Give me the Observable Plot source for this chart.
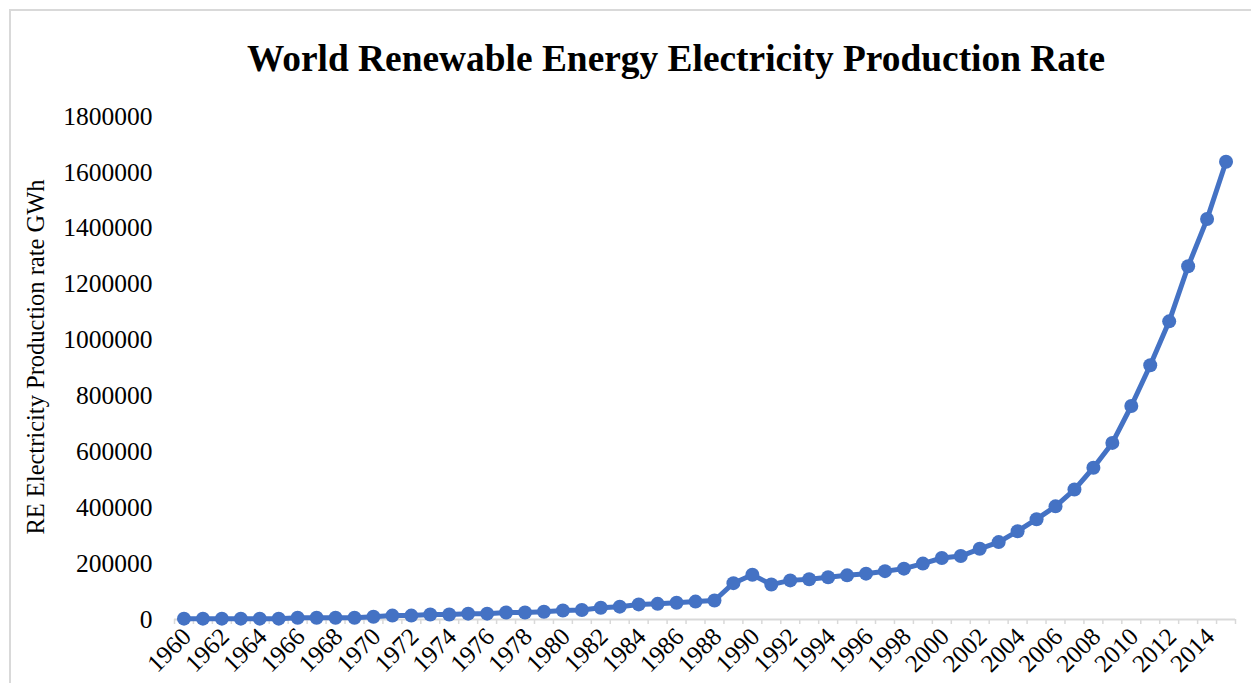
<!DOCTYPE html>
<html>
<head>
<meta charset="utf-8">
<script src="https://cdn.jsdelivr.net/npm/d3@7"></script>
<script src="https://cdn.jsdelivr.net/npm/@observablehq/plot@0.6"></script>
<style>
  html, body { margin: 0; padding: 0; background: #fff; }
  #page { position: relative; width: 1251px; height: 683px; overflow: hidden; background: #fff; }
  #frame { position: absolute; left: 9px; top: 9px; width: 1300px; height: 700px;
           border-left: 2px solid #d9d9d9; border-top: 2px solid #d9d9d9; }
  #title { position: absolute; left: 0; width: 1352px; top: 40px; text-align: center;
           font-family: "Liberation Serif", "Times New Roman", serif; font-weight: bold;
           font-size: 37.4px; line-height: 1; color: #000; }
  #chart { position: absolute; left: 0; top: 100px; }
</style>
</head>
<body>
<div id="page">
  <div id="frame"></div>
  <div id="title">World Renewable Energy Electricity Production Rate</div>
  <div id="chart"></div>
</div>
<script>
const years = d3.range(1960, 2016);
const production = [
  3000, 3000, 3000, 3000, 3000, 3000, 6000, 6000, 6000, 6000,
  10000, 14000, 14000, 18000, 18000, 21000, 21000, 25000, 25000, 28000,
  32000, 34000, 42000, 46000, 54000, 56000, 60000, 64000, 68000, 130000,
  160000, 125000, 140000, 144000, 151000, 158000, 164000, 173000, 182000, 200000,
  220000, 227000, 253000, 277000, 316000, 359000, 405000, 465000, 543000, 632000,
  764000, 910000, 1067000, 1264000, 1433000, 1638000
];
const yTicks = d3.range(0, 1800001, 200000);
const xLabelYears = d3.range(1960, 2015, 2);
const xTickMarks = d3.range(1959.5, 2016, 1);
const yLabel = "RE Electricity Production rate GWh";

const data = years.map((y, i) => ({year: y, value: production[i]}));
const font = '"Liberation Serif", "Times New Roman", serif';
const blue = "#4472C4";

const chart = Plot.plot({
  width: 1251,
  height: 583,
  marginLeft: 174,
  marginRight: 16,
  marginTop: 16,
  marginBottom: 64,
  style: {fontFamily: font, fontSize: "25px", color: "#000", background: "transparent"},
  x: {domain: [1959.5, 2015.5], axis: null},
  y: {domain: [0, 1800000], axis: null},
  marks: [
    Plot.ruleY([0], {stroke: "#d9d9d9", strokeWidth: 2}),
    Plot.axisX({ticks: xTickMarks, tickSize: 5, tickFormat: () => "", stroke: "#d9d9d9",
                strokeWidth: 1.5, strokeOpacity: 1, label: null}),
    Plot.axisX({ticks: xLabelYears, tickSize: 0, tickRotate: -45, tickPadding: 13, dx: 3,
                tickFormat: d => String(d), fontSize: 25, fill: "#000", label: null}),
    Plot.axisY({ticks: yTicks, tickSize: 0, tickPadding: 22, tickFormat: d3.format("d"),
                fontSize: 25.5, fill: "#000", label: null}),
    Plot.text([yLabel], {frameAnchor: "left", textAnchor: "middle", text: d => d, rotate: -90,
                         dx: -138, dy: -11, fontSize: 24.5, fill: "#000"}),
    Plot.line(data, {x: "year", y: "value", stroke: blue, strokeWidth: 5, curve: "linear"}),
    Plot.dot(data, {x: "year", y: "value", r: 7, fill: blue, stroke: "none"})
  ]
});
document.getElementById("chart").appendChild(chart);
</script>
</body>
</html>
